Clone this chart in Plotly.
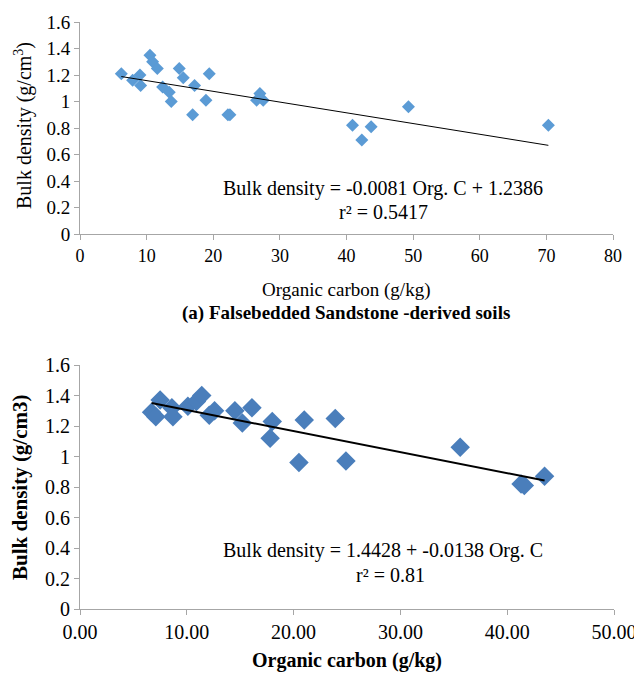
import plotly.graph_objects as go

# ---- Panel (a): Falsebedded Sandstone-derived soils ----
oc_a = [6.2, 7.9, 9.0, 9.1, 10.5, 10.9, 11.6, 12.4, 13.4, 13.7, 14.9, 15.5,
        16.9, 17.2, 18.9, 19.4, 22.2, 22.5, 26.5, 27.0, 27.5, 40.9, 42.3,
        43.7, 49.3, 70.3]
bd_a = [1.21, 1.16, 1.20, 1.12, 1.35, 1.30, 1.25, 1.11, 1.07, 1.00, 1.25, 1.18,
        0.90, 1.12, 1.01, 1.21, 0.90, 0.90, 1.01, 1.06, 1.01, 0.82, 0.71,
        0.81, 0.96, 0.82]
slope_a, intercept_a = -0.0081, 1.2386

# ---- Panel (b) ----
oc_b = [6.7, 7.1, 7.5, 8.6, 8.7, 10.1, 10.9, 11.4, 12.1, 12.6, 14.5, 15.2,
        16.1, 18.0, 17.8, 21.0, 20.5, 23.9, 24.9, 35.6, 41.3, 41.6, 43.5]
bd_b = [1.29, 1.26, 1.37, 1.32, 1.26, 1.33, 1.36, 1.40, 1.27, 1.30, 1.30, 1.22,
        1.32, 1.23, 1.12, 1.24, 0.96, 1.25, 0.97, 1.06, 0.82, 0.81, 0.87]
slope_b, intercept_b = -0.0138, 1.4428

y_ticks = [0, 0.2, 0.4, 0.6, 0.8, 1.0, 1.2, 1.4, 1.6]
y_ticktext = ["0", "0.2", "0.4", "0.6", "0.8", "1", "1.2", "1.4", "1.6"]
xa_ticks = [0, 10, 20, 30, 40, 50, 60, 70, 80]
xb_ticks = [0, 10, 20, 30, 40, 50]

FONT = "Times New Roman, Liberation Serif, serif"
OFF = 8            # default page body margin
W, H = 642 - OFF, 673 - OFF

def px(x):
    return (x - OFF) / W

def py(y):
    return 1 - (y - OFF) / H

fig = go.Figure()

# panel a
fig.add_trace(go.Scatter(x=oc_a, y=bd_a, mode="markers", xaxis="x", yaxis="y",
                         marker=dict(symbol="diamond", size=10, color="#5B9BD5"),
                         showlegend=False))
xa_line = [min(oc_a), max(oc_a)]
fig.add_trace(go.Scatter(x=xa_line, y=[intercept_a + slope_a * v for v in xa_line],
                         mode="lines", xaxis="x", yaxis="y",
                         line=dict(color="black", width=1), showlegend=False))

# panel b
fig.add_trace(go.Scatter(x=oc_b, y=bd_b, mode="markers", xaxis="x2", yaxis="y2",
                         marker=dict(symbol="diamond", size=15, color="#4A7EBB"),
                         showlegend=False))
xb_line = [min(oc_b), max(oc_b)]
fig.add_trace(go.Scatter(x=xb_line, y=[intercept_b + slope_b * v for v in xb_line],
                         mode="lines", xaxis="x2", yaxis="y2",
                         line=dict(color="black", width=2), showlegend=False))

axis_common = dict(showgrid=False, zeroline=False, showline=True, automargin=False,
                   linecolor="#A6A6A6", linewidth=1, ticks="outside",
                   ticklen=5, tickcolor="#A6A6A6")

fig.update_layout(
    width=W, height=H,
    margin=dict(l=0, r=0, t=0, b=0),
    paper_bgcolor="white", plot_bgcolor="white",
    font=dict(family=FONT, color="black"),
    xaxis=dict(domain=[px(80), px(613)], range=[0, 80], tickvals=xa_ticks,
               anchor="y", tickfont=dict(size=18, family=FONT), **axis_common),
    yaxis=dict(domain=[py(234), py(22)], range=[0, 1.6], tickvals=y_ticks,
               ticktext=y_ticktext, anchor="x",
               tickfont=dict(size=19, family=FONT), **axis_common),
    xaxis2=dict(domain=[px(80), px(614)], range=[0, 50], tickvals=xb_ticks,
                tickformat=".2f", anchor="y2",
                tickfont=dict(size=20, family=FONT), **axis_common),
    yaxis2=dict(domain=[py(609), py(365)], range=[0, 1.6], tickvals=y_ticks,
                ticktext=y_ticktext, anchor="x2",
                tickfont=dict(size=20, family=FONT), **axis_common),
)

ann = [
    # panel a texts
    dict(text="Bulk density (g/cm<sup>3</sup>)", x=px(23), y=py(126),
         textangle=-90, font=dict(size=20)),
    dict(text="Organic carbon (g/kg)", x=px(346), y=py(290), font=dict(size=19)),
    dict(text="<b>(a) Falsebedded Sandstone -derived soils</b>", x=px(346),
         y=py(313), font=dict(size=19)),
    dict(text="Bulk density = -0.0081 Org. C + 1.2386", x=px(383), y=py(188),
         font=dict(size=20)),
    dict(text="r² = 0.5417", x=px(383), y=py(212), font=dict(size=20)),
    # panel b texts
    dict(text="<b>Bulk density (g/cm3)</b>", x=px(20), y=py(487),
         textangle=-90, font=dict(size=21)),
    dict(text="<b>Organic carbon (g/kg)</b>", x=px(347), y=py(660),
         font=dict(size=20)),
    dict(text="Bulk density = 1.4428 + -0.0138 Org. C", x=px(383), y=py(550),
         font=dict(size=20)),
    dict(text="r² = 0.81", x=px(390), y=py(575), font=dict(size=20)),
]
for a in ann:
    a.update(xref="paper", yref="paper", showarrow=False,
             xanchor="center", yanchor="middle")
    a["font"].update(family=FONT, color="black")
fig.update_layout(annotations=ann)

fig.write_html("out.html")
